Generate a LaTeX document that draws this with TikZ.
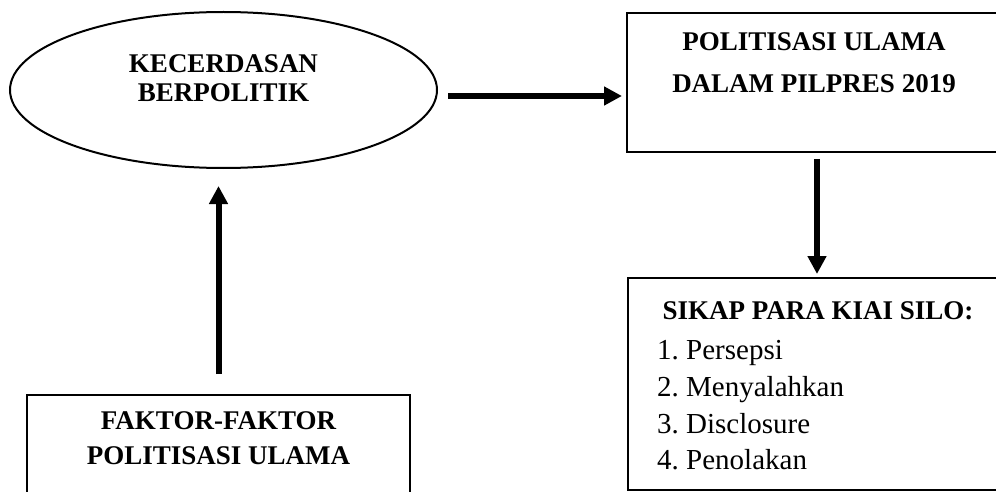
\documentclass[tikz,border=0pt]{standalone}
\usepackage{fontspec}
\setmainfont{Liberation Serif}
\usetikzlibrary{positioning,shapes.geometric,arrows.meta}
\begin{document}
\begin{tikzpicture}[x=1pt,y=-1pt,
 kotak/.style={draw,line width=2pt,rectangle,inner sep=0pt},
 judul/.style={inner sep=0pt,align=center,font=\bfseries\fontsize{27}{#1}\selectfont},
 panah/.style={line width=6pt,-{Triangle[length=18pt,width=18pt]}}]
 \useasboundingbox (0,0) rectangle (996,492);
 \clip (0,0) rectangle (996,492);
 \node[draw,ellipse,line width=2pt,inner sep=0pt,minimum width=427pt,minimum height=156pt] (kecerdasan) at (223.5,90) {};
 \node[judul=29, below=43pt of kecerdasan.north] (kecerdasanteks) {KECERDASAN\\BERPOLITIK};
 \node[kotak,minimum width=374pt,minimum height=139pt] (politisasi) at (814,82.5) {};
 \node[judul=42, below=20pt of politisasi.north] (politisasiteks) {POLITISASI ULAMA\\DALAM PILPRES 2019};
 \node[kotak,minimum width=380pt,minimum height=212pt] (sikap) at (818,384) {};
 \node[judul=36, below=24pt of sikap.north] (sikapteks) {SIKAP PARA KIAI SILO:};
 \node[inner sep=0pt,align=left,font=\frenchspacing\fontsize{29}{36.8}\selectfont,below right=63pt and 30pt of sikap.north west] (sikapisi) {1. Persepsi\\2. Menyalahkan\\3. Disclosure\\4. Penolakan};
 \node[kotak,minimum width=383pt,minimum height=110pt] (faktor) at (218.5,450) {};
 \node[judul=35, below=17pt of faktor.north] (faktorteks) {FAKTOR-FAKTOR\\POLITISASI ULAMA};
 \coordinate (awal) at ([xshift=10pt,yshift=-6pt]kecerdasan.east);
 \draw[panah] (awal) -- ([xshift=-4pt]awal -| politisasi.west);
 \draw[panah] ([xshift=3pt,yshift=-6pt]politisasi.south) -- ([xshift=-1pt,yshift=3pt]sikap.north);
 \draw[panah] ([yshift=20pt]faktor.north) -- ([yshift=-17pt]faktor.north |- kecerdasan.south);
\end{tikzpicture}
\end{document}
